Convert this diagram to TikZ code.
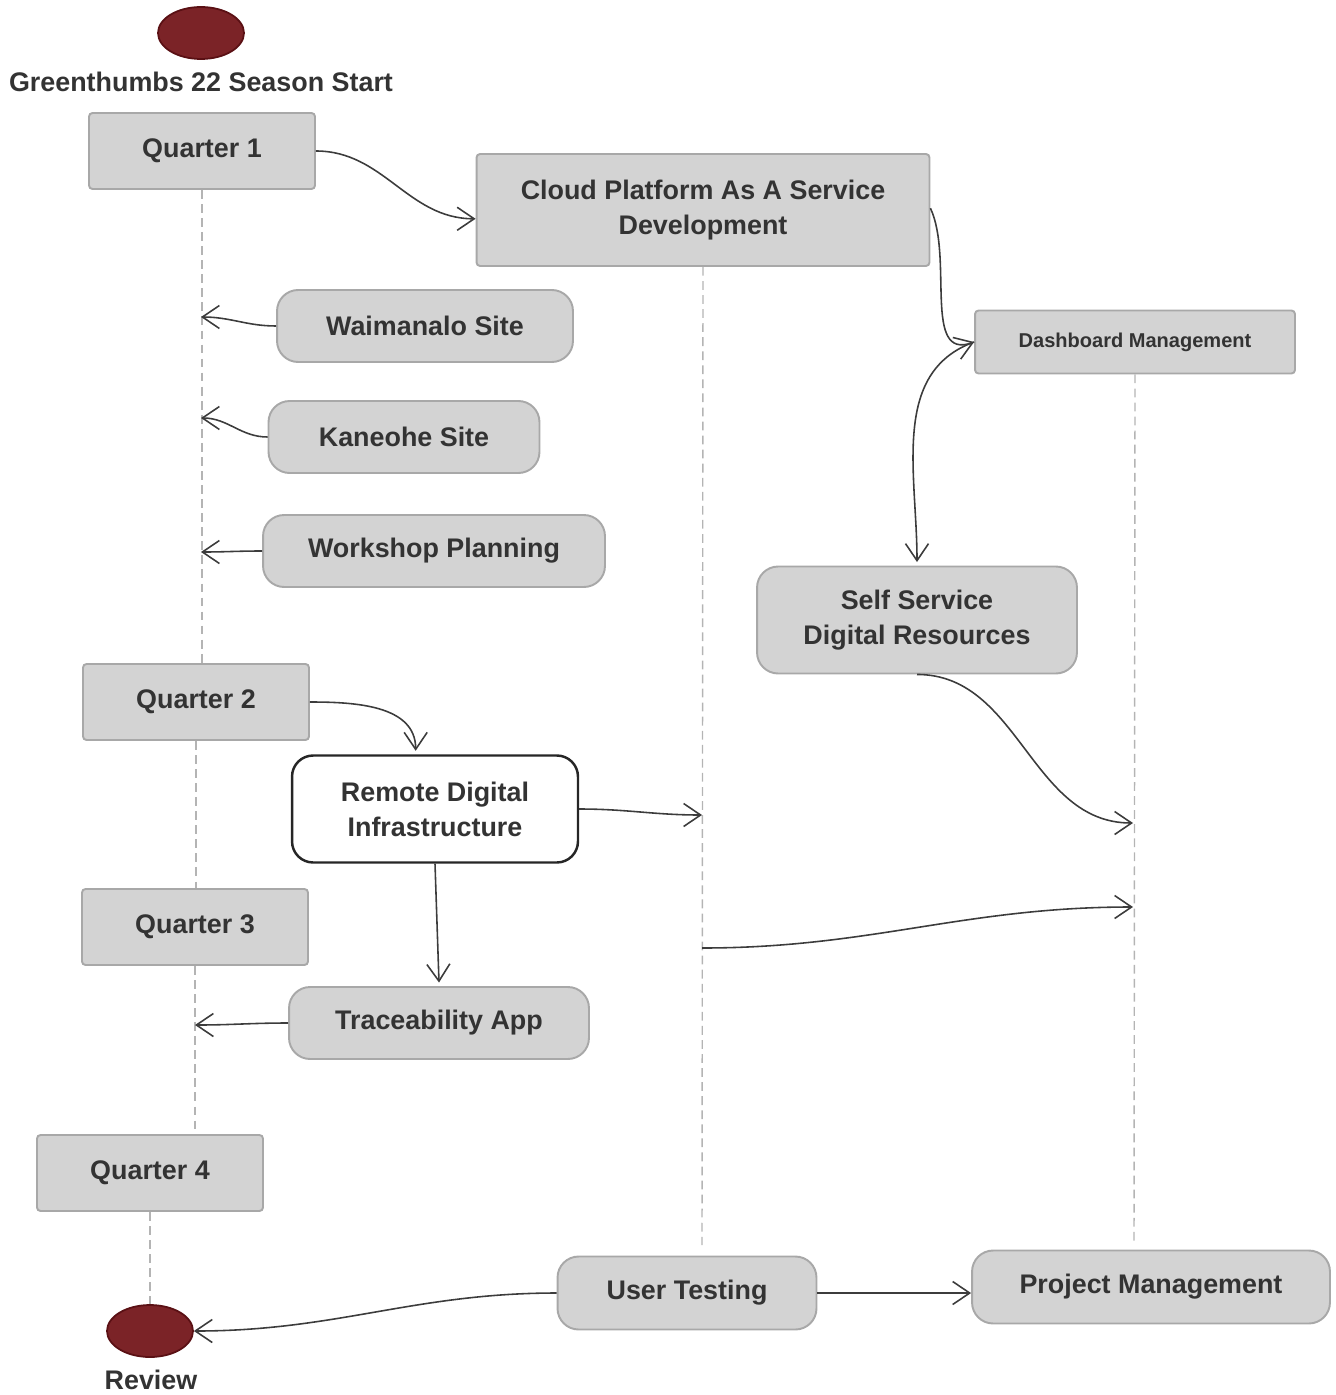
\documentclass[tikz,border=0pt]{standalone}
\usepackage{fontspec}
\setmainfont{Liberation Sans}
\usepackage{xcolor}
\usepackage{tikz}
\usetikzlibrary{shapes.geometric,arrows.meta,positioning}
\definecolor{boxfill}{HTML}{D3D3D3}
\definecolor{boxline}{HTML}{A8A8A8}
\definecolor{textgray}{HTML}{333333}
\definecolor{linegray}{HTML}{3C3C3C}
\definecolor{dashgray}{HTML}{B4B4B4}
\definecolor{milefill}{HTML}{7B2327}
\definecolor{mileline}{HTML}{5A1014}
\newcommand{\bigfont}{\fontsize{15.3}{20}\selectfont\bfseries}
\newcommand{\smallfont}{\fontsize{11.4}{14}\selectfont\bfseries}

\begin{document}
\begin{tikzpicture}[x=0.02cm, y=-0.02cm,
  quarter/.style={rectangle, draw=boxline, fill=boxfill, line width=1.1pt,
    rounded corners=2pt, minimum width=4.52cm, minimum height=1.52cm,
    inner sep=0pt, text=textgray, font=\bigfont},
  task/.style={rectangle, draw=boxline, fill=boxfill, line width=1.1pt,
    rounded corners=12pt, minimum height=1.44cm, inner sep=0pt,
    align=center, text=textgray, font=\bigfont},
  keytask/.style={task, draw=black!85, fill=white, line width=1.4pt},
  milestone/.style={ellipse, draw=mileline, fill=milefill, line width=1pt,
    minimum width=1.72cm, minimum height=1.04cm, inner sep=0pt},
  label/.style={text=textgray, font=\bigfont, inner sep=0pt},
  arrow/.style={-{Straight Barb[length=3.4mm,width=4.6mm]}, draw=linegray, line width=0.9pt},
  lifeline/.style={draw=dashgray, line width=0.8pt, dash pattern=on 5pt off 3pt}
]
  \useasboundingbox (0,0) rectangle (1335,1395);

  % Milestones
  \node[milestone] (start) at (201,33) {};
  \node[label] (startlbl) at (201,82) {Greenthumbs 22 Season Start};
  \node[milestone] (review) at (150,1331) {};
  \node[label] (reviewlbl) at (151,1380) {Review};

  % Quarters (left column)
  \node[quarter] (q1) at (202,151) {Quarter 1};
  \node[quarter] (q2) at (196,702) {Quarter 2};
  \node[quarter] (q3) at (195,927) {Quarter 3};
  \node[quarter] (q4) at (150,1173) {Quarter 4};

  % Sites and planning
  \node[task, minimum width=5.92cm] (waimanalo) at (425,326) {Waimanalo Site};
  \node[task, minimum width=5.42cm] (kaneohe) at (404,437) {Kaneohe Site};
  \node[task, minimum width=6.84cm] (workshop) at (434,551) {Workshop Planning};
  \node[keytask, minimum width=5.72cm, minimum height=2.14cm] (remote) at (435,809) {Remote Digital\\Infrastructure};
  \node[task, minimum width=6.0cm] (trace) at (439,1023) {Traceability App};

  % Platform column
  \node[quarter, align=center, minimum width=9.06cm, minimum height=2.24cm] (cloud) at (703,210) {Cloud Platform As A Service\\Development};
  \node[quarter, minimum width=6.4cm, minimum height=1.26cm, font=\smallfont] (dash) at (1135,342) {Dashboard Management};
  \node[task, minimum width=6.4cm, minimum height=2.14cm] (selfserv) at (917,620) {Self Service\\Digital Resources};

  % Bottom row
  \node[task, minimum width=5.18cm, minimum height=1.46cm] (usertest) at (687,1293) {User Testing};
  \node[task, minimum width=7.16cm, minimum height=1.46cm] (projmgmt) at (1151,1287) {Project Management};

  % Lifelines
  \draw[lifeline] (q1.south) -- (q1.south |- q2.north);
  \draw[lifeline] (q2.south) -- (q2.south |- q3.north);
  \draw[lifeline] (q3.south) -- (q3.south |- q4.north);
  \draw[lifeline] (q4.south) -- (review.north);
  \coordinate (cloudend) at (702,1245);
  \coordinate (dashend) at (1134,1245);
  \draw[lifeline] (cloud.south) -- (cloudend);
  \draw[lifeline] (dash.south) -- (dashend);

  % Arrow end points on lifelines
  \coordinate (waiIn) at (201,317);
  \coordinate (kanIn) at (201,418);
  \coordinate (wsIn) at (201,552);
  \coordinate (traceIn) at (195,1025);
  \coordinate (remoteIn) at (702,815);
  \coordinate (selfIn) at (1133,823);
  \coordinate (cloudOut) at (702,948);
  \coordinate (cloudIn) at (1133,907);

  % Quarter 1 flow
  \draw[arrow] (q1.east) to[out=0, in=180] ([yshift=-5pt]cloud.west);
  \draw[arrow] ([yshift=1pt]cloud.east) to[out=-65, in=200] (dash.west);
  \draw[arrow] (dash.west) to[out=200, in=90] ([yshift=2pt]selfserv.north);
  \draw[arrow] (waimanalo.west) to[out=180, in=0] (waiIn);
  \draw[arrow] (kaneohe.west) to[out=180, in=0] (kanIn);
  \draw[arrow] (workshop.west) to[out=180, in=0] (wsIn);

  % Quarter 2 / 3 flow
  \draw[arrow] (q2.east) to[out=0, in=90] ([xshift=-11pt, yshift=2pt]remote.north);
  \draw[arrow] (remote.east) to[out=0, in=180] (remoteIn);
  \draw[arrow] (remote.south) -- ([yshift=2pt]trace.north);
  \draw[arrow] (trace.west) to[out=180, in=0] (traceIn);
  \draw[arrow] (selfserv.south) to[out=0, in=180] (selfIn);
  \draw[arrow] (cloudOut) to[out=0, in=180] (cloudIn);

  % Wrap-up
  \draw[arrow] (usertest.west) to[out=180, in=0] (review.east);
  \draw[arrow] (usertest.east) -- (usertest.east -| projmgmt.west);
\end{tikzpicture}
\end{document}
